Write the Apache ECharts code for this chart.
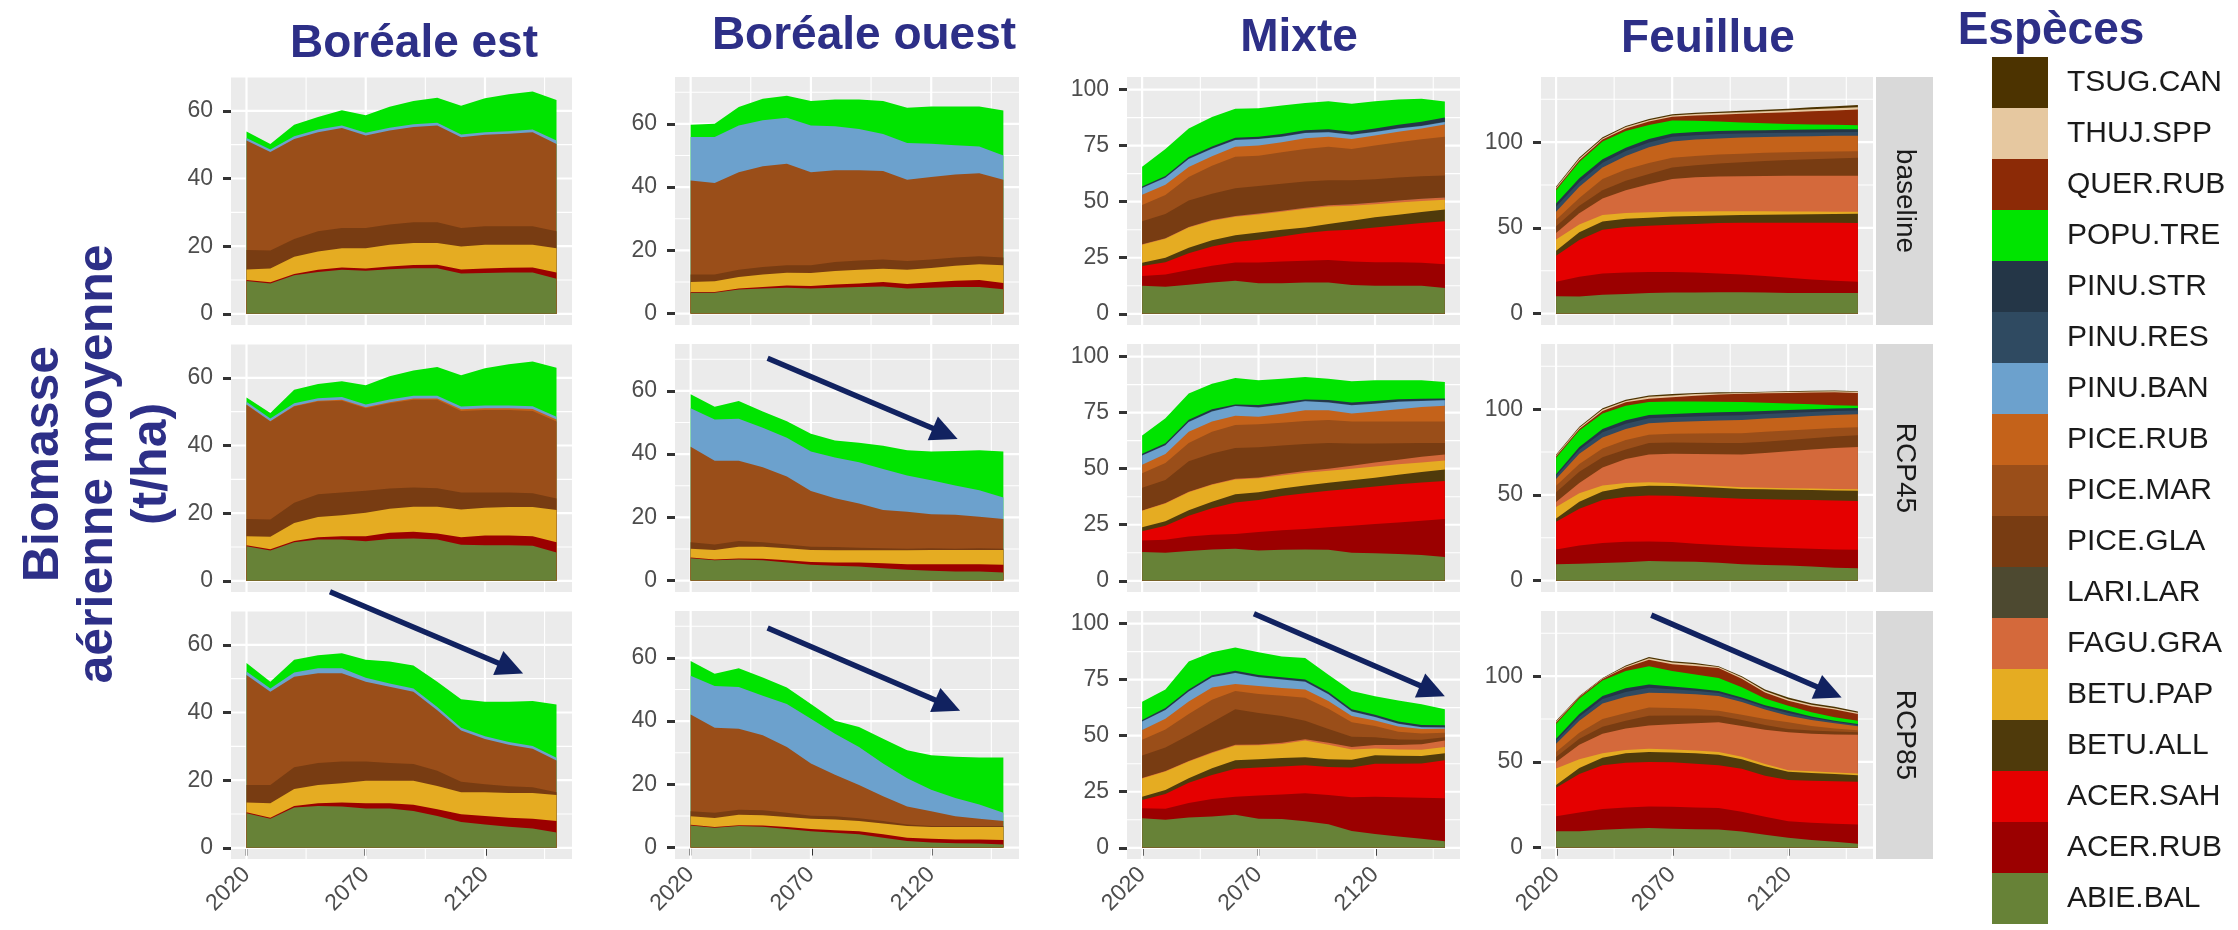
<!DOCTYPE html>
<html><head><meta charset="utf-8">
<script src="https://cdn.jsdelivr.net/npm/echarts@6/dist/echarts.min.js"></script>
<style>html,body{margin:0;padding:0;background:#fff;}#c{width:2238px;height:930px;}</style>
</head><body><div id="c"></div>
<script>
// ---------------- DATA ----------------
const years = [2020, 2030, 2040, 2050, 2060, 2070, 2080, 2090, 2100, 2110, 2120, 2130, 2140, 2150];
const xTickLabels = [2020, 2070, 2120];
const xMinorLines = [2045, 2095, 2145];
const regions = ['Boréale est', 'Boréale ouest', 'Mixte', 'Feuillue'];
const scenarios = ['baseline', 'RCP45', 'RCP85'];
const speciesOrder = ['ABIE.BAL','ACER.RUB','ACER.SAH','BETU.ALL','BETU.PAP','FAGU.GRA','LARI.LAR','PICE.GLA','PICE.MAR','PICE.RUB','PINU.BAN','PINU.RES','PINU.STR','POPU.TRE','QUER.RUB','THUJ.SPP','TSUG.CAN'];
const speciesColors = ['#678237','#9B0000','#E50000','#4F3A0B','#E5AC22','#D4693B','#4D4930','#783C12','#9A4E19','#C4621A','#6CA1CD','#2F4A61','#243647','#00E400','#8C2A06','#E6C8A0','#4C3300'];
const yTicksBorealEst = [0, 20, 40, 60];
const yMinorBorealEst = [10, 30, 50, 70];
const yTicksBorealOuest = [0, 20, 40, 60];
const yMinorBorealOuest = [10, 30, 50, 70];
const yTicksMixte = [0, 25, 50, 75, 100];
const yMinorMixte = [12.5, 37.5, 62.5, 87.5];
const yTicksFeuillue = [0, 50, 100];
const yMinorFeuillue = [25, 75, 125];

// biomass (t/ha) per species, one small object per panel
const borealEstBaseline = {
  'ABIE.BAL': [9.7, 9.0, 11.4, 12.4, 13.0, 12.7, 13.2, 13.5, 13.5, 11.9, 12.1, 12.2, 12.2, 10.4],
  'ACER.RUB': [0.3, 0.3, 0.4, 0.6, 0.7, 0.7, 0.8, 0.9, 1.0, 1.2, 1.3, 1.4, 1.5, 1.8],
  'BETU.PAP': [3.1, 4.1, 5.1, 5.4, 5.7, 6.0, 6.4, 6.5, 6.4, 6.8, 7.0, 6.8, 6.7, 7.2],
  'PICE.GLA': [5.8, 5.3, 5.2, 6.0, 6.0, 6.0, 6.0, 6.2, 6.2, 5.5, 5.5, 5.5, 5.5, 5.0],
  'PICE.MAR': [32.3, 29.1, 29.6, 29.3, 29.5, 27.3, 27.8, 28.1, 28.6, 26.8, 27.0, 27.3, 27.8, 25.8],
  'PINU.BAN': [0.8, 0.8, 0.8, 0.8, 0.8, 0.8, 0.8, 0.8, 0.8, 0.8, 0.8, 0.8, 0.8, 1.0],
  'POPU.TRE': [1.9, 1.6, 3.4, 3.7, 4.5, 5.2, 6.2, 6.9, 7.4, 8.5, 10.0, 10.9, 11.2, 12.0]
};
const borealEstRcp45 = {
  'ABIE.BAL': [10.2, 9.0, 11.4, 12.2, 12.2, 11.7, 12.4, 12.5, 12.2, 10.7, 10.5, 10.5, 10.4, 8.4],
  'ACER.RUB': [0.3, 0.3, 0.4, 0.7, 1.0, 1.5, 1.8, 2.0, 1.8, 2.2, 2.9, 2.9, 2.8, 3.0],
  'BETU.PAP': [2.7, 3.7, 5.3, 6.0, 6.2, 6.9, 7.1, 7.4, 7.9, 8.2, 8.2, 8.4, 8.6, 9.5],
  'PICE.GLA': [5.1, 5.1, 6.0, 6.7, 6.7, 6.5, 6.0, 5.7, 5.5, 5.0, 4.5, 4.3, 4.1, 3.4],
  'PICE.MAR': [33.7, 29.0, 28.4, 27.4, 27.1, 24.4, 25.2, 25.9, 26.1, 24.1, 24.4, 24.4, 24.3, 22.8],
  'PICE.RUB': [0.1, 0.1, 0.2, 0.2, 0.3, 0.3, 0.3, 0.4, 0.4, 0.5, 0.5, 0.5, 0.6, 0.6],
  'PINU.BAN': [0.8, 0.8, 0.8, 0.8, 0.8, 0.8, 0.8, 0.8, 0.8, 0.8, 0.8, 0.8, 0.8, 0.8],
  'POPU.TRE': [1.3, 1.6, 4.0, 4.2, 4.7, 5.7, 6.9, 7.5, 8.5, 9.3, 11.0, 12.2, 13.2, 14.5]
};
const borealEstRcp85 = {
  'ABIE.BAL': [10.2, 8.6, 11.9, 12.4, 12.2, 11.6, 11.6, 10.9, 9.4, 7.6, 6.9, 6.2, 5.7, 4.5],
  'ACER.RUB': [0.3, 0.3, 0.5, 0.8, 1.2, 1.6, 1.6, 1.8, 2.0, 2.3, 2.5, 2.7, 2.9, 3.4],
  'BETU.PAP': [2.9, 4.3, 5.0, 5.4, 5.7, 6.6, 6.6, 7.1, 6.9, 6.5, 7.0, 7.3, 7.6, 7.7],
  'PICE.GLA': [5.2, 5.4, 6.4, 6.5, 6.4, 5.7, 5.3, 5.0, 4.5, 3.1, 2.4, 2.0, 1.7, 0.8],
  'PICE.MAR': [32.5, 27.5, 26.8, 26.5, 26.1, 23.6, 22.5, 21.3, 17.9, 15.2, 13.4, 12.3, 11.4, 9.4],
  'PINU.BAN': [1.0, 1.0, 1.2, 1.5, 1.5, 1.2, 1.0, 1.0, 0.9, 0.8, 0.8, 0.8, 0.8, 0.8],
  'POPU.TRE': [2.5, 2.0, 3.8, 3.8, 4.4, 5.3, 6.5, 6.8, 7.5, 8.4, 10.2, 11.9, 13.3, 15.8]
};
const borealOuestBaseline = {
  'ABIE.BAL': [6.6, 6.6, 7.6, 7.9, 8.2, 7.9, 8.2, 8.4, 8.6, 7.9, 8.2, 8.4, 8.4, 7.7],
  'ACER.RUB': [0.2, 0.2, 0.3, 0.5, 0.7, 0.8, 1.0, 1.1, 1.4, 1.5, 1.7, 2.0, 2.2, 2.0],
  'BETU.PAP': [3.2, 3.4, 3.7, 4.0, 4.0, 4.1, 4.3, 4.4, 4.2, 4.5, 4.5, 4.7, 5.0, 5.6],
  'PICE.GLA': [2.4, 2.2, 2.3, 2.3, 2.4, 2.5, 2.8, 2.9, 2.9, 2.7, 2.7, 2.6, 2.5, 2.4],
  'PICE.MAR': [29.7, 28.9, 30.8, 31.9, 32.1, 29.4, 29.0, 28.5, 28.0, 25.7, 26.1, 26.3, 26.3, 24.6],
  'PINU.BAN': [13.7, 14.5, 14.8, 14.5, 14.5, 14.8, 13.9, 13.1, 11.7, 11.6, 10.5, 9.2, 8.4, 7.7],
  'POPU.TRE': [3.9, 4.2, 5.8, 6.8, 7.0, 7.7, 8.5, 9.3, 10.4, 11.2, 11.8, 12.3, 12.7, 14.2]
};
const borealOuestRcp45 = {
  'ABIE.BAL': [7.1, 6.4, 6.7, 6.4, 5.7, 5.0, 4.7, 4.5, 3.9, 3.4, 3.1, 2.9, 2.9, 2.6],
  'ACER.RUB': [0.2, 0.3, 0.3, 0.5, 0.7, 0.9, 1.0, 1.2, 1.6, 1.8, 2.1, 2.3, 2.3, 2.4],
  'BETU.PAP': [2.8, 3.0, 3.7, 3.8, 3.8, 3.8, 3.9, 3.9, 4.1, 4.4, 4.5, 4.5, 4.5, 4.7],
  'PICE.GLA': [2.0, 1.7, 1.8, 1.4, 1.2, 1.0, 1.0, 0.8, 0.6, 0.5, 0.5, 0.4, 0.5, 0.4],
  'PICE.MAR': [30.2, 26.5, 25.4, 23.7, 21.5, 17.6, 15.4, 14.0, 12.1, 11.7, 10.8, 10.7, 10.0, 9.4],
  'PINU.BAN': [12.2, 13.0, 13.3, 12.5, 12.3, 12.5, 12.9, 13.0, 13.0, 11.4, 10.7, 9.3, 8.4, 6.8],
  'POPU.TRE': [4.4, 4.1, 5.6, 5.2, 5.2, 5.6, 5.4, 6.2, 7.3, 8.0, 9.1, 10.9, 12.6, 14.5]
};
const borealOuestRcp85 = {
  'ABIE.BAL': [7.0, 6.3, 6.8, 6.6, 5.9, 5.2, 4.7, 4.2, 3.1, 2.1, 1.6, 1.4, 1.3, 1.0],
  'ACER.RUB': [0.2, 0.2, 0.3, 0.4, 0.6, 0.7, 0.8, 1.0, 1.1, 1.0, 1.2, 1.2, 1.3, 1.4],
  'BETU.PAP': [2.7, 2.9, 3.3, 3.2, 3.2, 3.2, 3.4, 3.2, 3.4, 3.7, 3.7, 3.9, 3.9, 4.1],
  'PICE.GLA': [1.6, 1.6, 1.6, 1.6, 1.3, 1.0, 1.0, 0.9, 0.8, 0.5, 0.3, 0.3, 0.3, 0.3],
  'PICE.MAR': [30.6, 26.9, 25.6, 23.7, 20.8, 16.5, 13.1, 10.5, 7.8, 5.7, 4.7, 3.1, 2.3, 1.6],
  'PINU.BAN': [12.2, 13.2, 13.2, 12.5, 13.6, 14.1, 13.0, 12.0, 10.4, 8.9, 6.8, 5.8, 4.5, 2.6],
  'POPU.TRE': [4.7, 3.9, 5.9, 5.8, 5.2, 4.7, 4.1, 6.3, 7.8, 8.9, 10.9, 13.0, 14.9, 17.5]
};
const mixteBaseline = {
  'ABIE.BAL': [12.5, 12.1, 13.0, 14.0, 14.7, 13.6, 13.6, 13.9, 14.0, 12.8, 12.5, 12.5, 12.5, 11.5],
  'ACER.RUB': [4.4, 5.4, 6.5, 7.4, 8.2, 9.3, 9.7, 9.7, 10.0, 10.5, 10.5, 10.5, 10.3, 10.6],
  'ACER.SAH': [4.4, 5.5, 7.5, 8.6, 9.1, 10.1, 11.2, 12.4, 13.0, 14.2, 15.5, 16.5, 17.7, 19.2],
  'BETU.ALL': [1.5, 2.0, 2.5, 2.8, 3.0, 3.3, 3.0, 2.5, 3.0, 4.0, 4.5, 4.7, 4.9, 5.2],
  'BETU.PAP': [8.0, 8.5, 9.0, 8.7, 8.3, 8.0, 8.0, 8.3, 7.8, 6.7, 5.8, 5.4, 4.9, 4.4],
  'FAGU.GRA': [0.2, 0.2, 0.2, 0.3, 0.3, 0.4, 0.5, 0.5, 0.6, 0.7, 0.8, 0.9, 1.0, 1.0],
  'LARI.LAR': [0, 0, 0, 0, 0, 0, 0, 0, 0, 0, 0, 0, 0, 0],
  'PICE.GLA': [10.3, 10.8, 11.8, 11.7, 12.4, 12.3, 12.0, 11.7, 11.1, 10.6, 10.4, 10.3, 10.0, 9.8],
  'PICE.MAR': [7.2, 8.5, 10.5, 12.5, 14.0, 13.5, 14.0, 14.5, 15.0, 14.0, 15.0, 15.7, 16.5, 17.2],
  'PICE.RUB': [4.6, 4.5, 4.5, 4.3, 4.5, 4.6, 4.5, 4.8, 4.5, 4.5, 4.5, 4.7, 4.8, 5.5],
  'PINU.BAN': [3.0, 3.2, 3.5, 3.3, 3.0, 2.8, 2.5, 2.3, 2.0, 1.8, 1.6, 1.4, 1.2, 1.1],
  'PINU.RES': [0.2, 0.2, 0.2, 0.2, 0.2, 0.2, 0.2, 0.2, 0.2, 0.2, 0.2, 0.2, 0.2, 0.2],
  'PINU.STR': [0.5, 0.6, 0.7, 0.8, 0.8, 0.9, 1.0, 1.0, 1.1, 1.2, 1.3, 1.5, 1.6, 1.8],
  'POPU.TRE': [8.8, 12.0, 12.7, 13.2, 12.9, 12.7, 12.7, 12.2, 12.5, 12.5, 12.2, 11.3, 10.3, 7.2]
};
const mixteRcp45 = {
  'ABIE.BAL': [12.8, 12.5, 13.3, 14.0, 14.3, 13.5, 13.8, 14.0, 13.8, 12.5, 12.3, 12.0, 11.5, 10.6],
  'ACER.RUB': [5.2, 5.8, 6.5, 6.5, 6.6, 8.3, 8.7, 9.1, 10.1, 12.0, 13.0, 14.0, 15.3, 16.9],
  'ACER.SAH': [4.1, 6.2, 9.2, 11.8, 14.0, 14.2, 15.3, 15.9, 16.2, 16.5, 16.7, 17.0, 17.0, 17.0],
  'BETU.ALL': [1.8, 2.0, 2.5, 3.0, 3.7, 3.5, 3.4, 3.5, 3.6, 3.8, 4.0, 4.3, 4.7, 5.1],
  'BETU.PAP': [7.3, 8.0, 8.0, 7.5, 6.6, 6.2, 5.8, 5.7, 5.4, 5.2, 5.0, 4.7, 4.3, 4.0],
  'FAGU.GRA': [0.2, 0.2, 0.2, 0.2, 0.3, 0.4, 0.6, 0.8, 0.9, 1.3, 1.7, 2.0, 2.5, 2.7],
  'PICE.GLA': [10.1, 10.3, 13.6, 13.8, 13.7, 13.4, 12.7, 12.0, 11.4, 9.9, 8.5, 7.3, 6.1, 5.1],
  'PICE.MAR': [6.5, 7.5, 8.2, 9.7, 10.3, 10.3, 10.2, 10.3, 10.3, 9.8, 9.8, 9.7, 9.6, 9.6],
  'PICE.RUB': [3.8, 4.0, 5.0, 4.5, 4.1, 3.4, 4.0, 4.8, 4.4, 3.6, 4.5, 5.5, 6.5, 7.1],
  'PINU.BAN': [4.1, 4.0, 4.3, 4.5, 4.3, 4.1, 4.0, 4.0, 3.4, 3.7, 3.5, 3.3, 2.7, 2.4],
  'PINU.RES': [0.2, 0.2, 0.2, 0.2, 0.2, 0.2, 0.2, 0.2, 0.2, 0.2, 0.2, 0.2, 0.2, 0.2],
  'PINU.STR': [0.5, 0.6, 0.8, 0.8, 0.5, 0.9, 0.9, 0.6, 0.9, 1.0, 1.0, 1.0, 0.8, 0.6],
  'POPU.TRE': [8.2, 11.2, 11.7, 11.4, 11.8, 11.0, 10.5, 10.0, 9.5, 9.5, 9.2, 8.4, 8.2, 7.4]
};
const mixteRcp85 = {
  'ABIE.BAL': [13.2, 12.5, 13.5, 14.0, 14.7, 13.0, 12.8, 11.8, 10.5, 7.5, 6.2, 5.0, 4.0, 2.9],
  'ACER.RUB': [4.4, 4.9, 6.5, 7.8, 8.1, 10.3, 11.0, 12.5, 13.0, 15.0, 16.6, 17.5, 18.3, 19.2],
  'ACER.SAH': [3.7, 6.6, 9.0, 10.7, 12.5, 12.5, 12.5, 12.5, 12.5, 13.3, 14.7, 15.0, 15.3, 16.9],
  'BETU.ALL': [1.5, 1.8, 2.0, 3.0, 3.7, 3.7, 3.7, 3.6, 3.5, 3.5, 3.8, 3.5, 3.3, 3.2],
  'BETU.PAP': [8.1, 8.2, 7.5, 6.8, 6.6, 6.2, 6.3, 7.4, 6.5, 4.5, 3.0, 2.8, 2.8, 2.7],
  'FAGU.GRA': [0.2, 0.2, 0.2, 0.3, 0.3, 0.4, 0.5, 0.6, 0.8, 1.2, 1.5, 2.0, 2.5, 2.9],
  'PICE.GLA': [10.1, 10.5, 11.5, 13.4, 15.9, 14.0, 12.0, 8.2, 6.2, 4.5, 3.5, 2.5, 2.0, 1.5],
  'PICE.MAR': [7.0, 8.0, 9.5, 10.0, 8.1, 8.5, 9.0, 10.3, 9.0, 6.5, 5.0, 3.5, 2.8, 2.0],
  'PICE.RUB': [4.3, 4.8, 5.5, 5.5, 3.2, 3.5, 3.5, 3.7, 3.5, 2.8, 2.5, 2.3, 2.0, 1.8],
  'PINU.BAN': [3.8, 4.0, 4.5, 4.5, 4.9, 4.0, 3.8, 3.5, 3.0, 2.0, 1.5, 1.2, 0.8, 0.5],
  'PINU.RES': [0.2, 0.2, 0.2, 0.2, 0.2, 0.2, 0.2, 0.2, 0.2, 0.2, 0.2, 0.2, 0.2, 0.2],
  'PINU.STR': [0.5, 0.6, 0.7, 0.8, 0.8, 0.8, 0.8, 0.8, 0.8, 0.8, 0.8, 0.8, 0.8, 0.8],
  'POPU.TRE': [8.1, 8.3, 12.5, 10.2, 10.3, 10.1, 9.2, 9.5, 7.7, 8.1, 8.3, 9.4, 9.2, 7.2]
};
const feuillueBaseline = {
  'ABIE.BAL': [10.1, 10.0, 11.0, 11.5, 12.0, 12.3, 12.3, 12.5, 12.5, 12.3, 12.0, 12.0, 12.0, 12.0],
  'ACER.RUB': [8.5, 11.5, 12.4, 12.5, 12.3, 12.0, 11.7, 11.0, 10.3, 9.7, 9.0, 8.0, 7.2, 6.6],
  'ACER.SAH': [15.2, 21.5, 25.6, 26.5, 27.0, 27.6, 28.3, 29.3, 30.2, 31.0, 32.0, 33.0, 33.8, 34.3],
  'BETU.ALL': [2.9, 4.5, 4.8, 4.8, 4.7, 4.8, 4.7, 4.5, 4.5, 4.7, 4.8, 5.0, 5.1, 5.3],
  'BETU.PAP': [6.6, 4.5, 3.8, 3.4, 3.2, 2.8, 2.6, 2.4, 2.2, 2.0, 1.8, 1.6, 1.4, 1.3],
  'FAGU.GRA': [3.8, 6.5, 9.5, 13.3, 16.3, 19.0, 19.9, 20.3, 20.5, 20.6, 20.8, 20.8, 20.9, 20.9],
  'PICE.GLA': [3.9, 4.5, 4.8, 5.5, 6.0, 6.7, 7.0, 7.5, 8.1, 8.7, 9.2, 9.7, 10.1, 10.5],
  'PICE.MAR': [3.8, 4.5, 6.6, 6.5, 6.3, 5.7, 5.5, 5.3, 5.0, 4.8, 4.5, 4.3, 4.1, 3.8],
  'PICE.RUB': [4.7, 6.5, 6.7, 8.0, 9.2, 9.5, 9.5, 9.4, 9.4, 9.2, 9.2, 9.1, 9.1, 9.1],
  'PINU.RES': [2.8, 2.8, 2.8, 2.8, 2.8, 2.8, 2.6, 2.5, 2.4, 2.3, 2.2, 2.2, 2.1, 2.1],
  'PINU.STR': [2.0, 2.2, 2.0, 2.0, 2.0, 1.9, 1.9, 1.8, 1.7, 1.7, 1.7, 1.7, 1.7, 1.7],
  'POPU.TRE': [7.6, 9.5, 10.4, 9.7, 8.2, 7.6, 6.5, 5.5, 4.7, 4.0, 3.4, 2.9, 2.6, 2.3],
  'QUER.RUB': [0.9, 1.0, 1.1, 1.5, 2.0, 2.1, 3.0, 4.0, 5.0, 6.0, 6.9, 7.7, 8.4, 9.1],
  'THUJ.SPP': [0.7, 0.8, 0.7, 0.8, 0.8, 0.8, 0.9, 1.0, 1.0, 1.0, 1.1, 1.2, 1.3, 1.3],
  'TSUG.CAN': [0.6, 0.7, 0.6, 0.7, 0.7, 0.7, 0.8, 0.8, 0.8, 0.9, 0.9, 1.1, 1.2, 1.4]
};
const feuillueRcp45 = {
  'ABIE.BAL': [9.6, 9.8, 10.3, 10.8, 11.5, 11.2, 11.0, 10.5, 9.6, 9.2, 8.8, 8.3, 7.6, 7.2],
  'ACER.RUB': [8.6, 10.7, 11.7, 11.9, 11.4, 11.3, 10.5, 10.3, 10.5, 10.3, 10.2, 10.3, 10.6, 10.8],
  'ACER.SAH': [16.2, 21.5, 25.0, 26.3, 26.8, 27.0, 27.5, 27.6, 27.7, 28.0, 28.2, 28.4, 28.6, 28.5],
  'BETU.ALL': [1.9, 4.0, 5.0, 5.5, 5.7, 5.7, 5.8, 5.8, 5.7, 5.8, 5.8, 5.8, 5.8, 5.9],
  'BETU.PAP': [6.7, 5.0, 3.5, 2.5, 2.0, 1.8, 1.2, 1.0, 1.0, 0.9, 0.9, 0.9, 0.9, 0.9],
  'FAGU.GRA': [2.9, 6.0, 10.5, 14.0, 16.2, 17.0, 17.8, 18.5, 19.1, 20.3, 21.6, 22.8, 23.9, 24.7],
  'PICE.GLA': [5.7, 6.5, 6.0, 5.5, 6.7, 6.5, 6.6, 6.6, 6.7, 6.5, 6.5, 6.5, 6.7, 6.8],
  'PICE.MAR': [3.8, 4.5, 5.0, 5.5, 4.8, 5.1, 5.4, 5.7, 5.7, 5.8, 5.6, 5.3, 4.9, 4.7],
  'PICE.RUB': [3.9, 6.0, 6.5, 6.5, 6.7, 6.9, 7.2, 7.4, 7.7, 7.7, 7.6, 7.7, 7.6, 7.5],
  'PINU.RES': [1.7, 2.4, 3.0, 3.0, 2.9, 2.8, 2.8, 2.8, 2.8, 2.7, 2.6, 2.4, 2.3, 2.2],
  'PINU.STR': [1.1, 1.6, 2.0, 2.0, 1.9, 1.9, 2.0, 2.0, 2.0, 1.8, 1.7, 1.6, 1.5, 1.5],
  'POPU.TRE': [9.6, 9.5, 9.0, 8.5, 7.6, 7.3, 6.7, 6.1, 5.7, 4.8, 3.8, 2.8, 1.9, 1.3],
  'QUER.RUB': [0.8, 1.0, 1.5, 2.0, 1.9, 2.5, 3.3, 4.2, 4.8, 5.5, 6.2, 6.9, 7.6, 7.5],
  'THUJ.SPP': [0.6, 0.7, 0.8, 0.8, 1.1, 1.0, 1.0, 0.7, 0.5, 0.5, 0.5, 0.6, 0.5, 0.7],
  'TSUG.CAN': [0.5, 0.6, 0.7, 0.7, 0.8, 0.8, 0.7, 0.6, 0.4, 0.4, 0.5, 0.5, 0.5, 0.3]
};
const feuillueRcp85 = {
  'ABIE.BAL': [9.6, 9.6, 10.5, 11.0, 11.5, 11.0, 10.8, 10.6, 9.5, 7.5, 5.8, 4.5, 3.5, 2.3],
  'ACER.RUB': [8.7, 10.9, 12.0, 12.5, 12.5, 12.8, 12.7, 12.5, 11.5, 10.5, 9.6, 10.0, 10.5, 11.2],
  'ACER.SAH': [16.7, 22.5, 25.5, 26.0, 26.0, 26.0, 25.5, 25.0, 25.0, 24.0, 24.0, 24.5, 24.8, 25.0],
  'BETU.ALL': [1.5, 3.5, 4.5, 5.5, 5.8, 5.7, 6.0, 6.1, 5.5, 5.5, 4.8, 4.5, 4.2, 3.8],
  'BETU.PAP': [9.7, 5.0, 2.5, 2.0, 1.9, 1.8, 1.7, 1.6, 1.5, 1.3, 1.0, 1.0, 0.9, 1.0],
  'FAGU.GRA': [3.8, 8.5, 11.5, 12.5, 13.5, 14.7, 15.8, 17.3, 18.0, 20.0, 22.1, 22.0, 22.1, 22.5],
  'PICE.GLA': [2.9, 3.5, 4.0, 4.5, 5.7, 5.0, 4.5, 3.8, 3.5, 2.7, 1.9, 1.8, 1.8, 1.5],
  'PICE.MAR': [2.9, 3.5, 4.5, 4.5, 4.8, 4.5, 4.0, 2.9, 3.0, 3.5, 3.9, 2.7, 1.7, 1.2],
  'PICE.RUB': [4.8, 7.0, 9.0, 9.5, 8.7, 8.5, 8.5, 8.7, 7.5, 5.5, 3.8, 3.5, 3.0, 2.3],
  'PINU.RES': [1.8, 2.4, 2.7, 2.8, 2.9, 2.4, 2.0, 1.7, 1.5, 1.5, 1.7, 1.2, 0.9, 0.8],
  'PINU.STR': [1.1, 1.6, 1.8, 2.2, 1.9, 1.6, 1.3, 1.1, 1.0, 1.0, 1.2, 0.8, 0.6, 0.5],
  'POPU.TRE': [8.6, 9.0, 9.0, 10.0, 10.6, 9.0, 8.2, 7.7, 6.0, 4.0, 2.9, 2.5, 2.0, 1.9],
  'QUER.RUB': [0.9, 0.8, 0.8, 2.0, 3.8, 4.0, 5.0, 5.8, 5.0, 3.5, 2.9, 3.5, 4.5, 3.9],
  'THUJ.SPP': [0.5, 0.4, 0.4, 0.6, 0.8, 0.9, 0.9, 0.5, 0.8, 0.9, 0.9, 0.9, 0.8, 0.8],
  'TSUG.CAN': [0.5, 0.3, 0.3, 0.6, 0.8, 0.8, 0.8, 0.5, 0.7, 0.9, 1.0, 0.8, 0.8, 0.7]
};
// annotation arrows [year start, value start, year end, value end]
const arrowBorealEstRcp85 = [2055, 75.7, 2136, 51.5];
const arrowBorealOuestRcp45 = [2052, 70.3, 2131, 44.8];
const arrowBorealOuestRcp85 = [2052, 69.4, 2132, 43.3];
const arrowMixteRcp85 = [2068, 104.4, 2150, 67.6];
const arrowFeuillueRcp85 = [2061, 135.6, 2143, 87.5];

// ---------------- LAYOUT ----------------
const FONT = '"Liberation Sans", Arial, Helvetica, sans-serif';
const NAVY = '#2D2F87';
const ARROW = '#112260';
const COL_LEFT = [231, 675, 1127, 1541];
const COL_WIDTH = [341, 344, 333, 332];
const ROW_TOP = [77, 344, 611];
const ROW_H = 248;
const Y_RANGE = [[-3.3, 70], [-3.6, 74.8], [-5, 105.6], [-6.6, 138]];
const X_RANGE = [2013.5, 2156.5];

const panelData = [
  [borealEstBaseline, borealEstRcp45, borealEstRcp85],
  [borealOuestBaseline, borealOuestRcp45, borealOuestRcp85],
  [mixteBaseline, mixteRcp45, mixteRcp85],
  [feuillueBaseline, feuillueRcp45, feuillueRcp85]
];
const yTicks = [yTicksBorealEst, yTicksBorealOuest, yTicksMixte, yTicksFeuillue];
const yMinor = [yMinorBorealEst, yMinorBorealOuest, yMinorMixte, yMinorFeuillue];
const arrows = [
  {col: 0, row: 2, v: arrowBorealEstRcp85},
  {col: 1, row: 1, v: arrowBorealOuestRcp45},
  {col: 1, row: 2, v: arrowBorealOuestRcp85},
  {col: 2, row: 2, v: arrowMixteRcp85},
  {col: 3, row: 2, v: arrowFeuillueRcp85}
];
const colorOf = s => speciesColors[speciesOrder.indexOf(s)];

// white panel grid lines, drawn beneath the areas
function renderGridLine(params, api) {
  const cs = params.coordSys;
  const p = api.coord([api.value(0), api.value(1)]);
  const vertical = api.value(2) === 1;
  const shape = vertical ? {x1: p[0], y1: cs.y, x2: p[0], y2: cs.y + cs.height}
                         : {x1: cs.x, y1: p[1], x2: cs.x + cs.width, y2: p[1]};
  return {type: 'line', shape, style: {stroke: '#FFFFFF', lineWidth: api.value(3)}};
}

const grids = [], xAxes = [], yAxes = [], series = [];
panelData.forEach((col, c) => col.forEach((panel, r) => {
  const gi = c * 3 + r;
  grids.push({left: COL_LEFT[c], top: ROW_TOP[r], width: COL_WIDTH[c], height: ROW_H,
    show: true, backgroundColor: '#EBEBEB', borderWidth: 0, containLabel: false, outerBoundsMode: 'none'});
  const bottomRow = r === 2;
  xAxes.push({gridIndex: gi, type: 'value', min: X_RANGE[0], max: X_RANGE[1],
    axisLine: {show: false}, splitLine: {show: false},
    axisTick: {show: bottomRow, customValues: xTickLabels, length: 8, lineStyle: {color: '#333333', width: 3}},
    axisLabel: {show: bottomRow, customValues: xTickLabels, rotate: 45, margin: 12, fontSize: 23,
      color: '#4D4D4D', fontFamily: FONT, formatter: v => String(v)}});
  yAxes.push({gridIndex: gi, type: 'value', min: Y_RANGE[c][0], max: Y_RANGE[c][1],
    axisLine: {show: false}, splitLine: {show: false},
    axisTick: {show: true, customValues: yTicks[c], length: 8, lineStyle: {color: '#333333', width: 3}},
    axisLabel: {customValues: yTicks[c], margin: 18, fontSize: 23, color: '#4D4D4D', fontFamily: FONT,
      formatter: v => String(v)}});
  const gl = [];
  xTickLabels.forEach(v => gl.push([v, 0, 1, 2.2]));
  xMinorLines.forEach(v => gl.push([v, 0, 1, 1.1]));
  yTicks[c].forEach(v => gl.push([years[0], v, 0, 2.2]));
  yMinor[c].forEach(v => gl.push([years[0], v, 0, 1.1]));
  series.push({type: 'custom', name: '__grid' + gi, xAxisIndex: gi, yAxisIndex: gi, z: 1, silent: true,
    clip: true, data: gl, renderItem: renderGridLine});
  // stacked areas: cumulative tops, painted from the top layer down
  const present = speciesOrder.filter(s => panel[s]);
  const running = years.map(() => 0);
  const stacked = present.map(s => ({s, vals: panel[s].map((v, i) => (running[i] += v))}));
  for (let k = stacked.length - 1; k >= 0; k--) {
    const {s, vals} = stacked[k];
    const col = colorOf(s);
    series.push({type: 'line', name: s, xAxisIndex: gi, yAxisIndex: gi, z: 2, silent: true,
      color: col, itemStyle: {color: col},
      data: years.map((y, i) => [y, vals[i]]), symbol: 'none', showSymbol: false,
      lineStyle: {width: 0, opacity: 0}, areaStyle: {color: col, opacity: 1, origin: 'auto'}});
  }
}));

function renderArrow(params, api) {
  const p1 = api.coord([api.value(0), api.value(1)]);
  const p2 = api.coord([api.value(2), api.value(3)]);
  const dx = p2[0] - p1[0], dy = p2[1] - p1[1];
  const len = Math.hypot(dx, dy), ux = dx / len, uy = dy / len;
  const hl = 27, hw = 13;
  const bx = p2[0] - ux * hl, by = p2[1] - uy * hl;
  return {type: 'group', children: [
    {type: 'line', shape: {x1: p1[0], y1: p1[1], x2: bx + ux * 3, y2: by + uy * 3}, style: {stroke: ARROW, lineWidth: 5.5}},
    {type: 'polygon', shape: {points: [[p2[0], p2[1]], [bx - uy * hw, by + ux * hw], [bx + uy * hw, by - ux * hw]]}, style: {fill: ARROW}}
  ]};
}
arrows.forEach(a => {
  const gi = a.col * 3 + a.row;
  series.push({type: 'custom', name: '__arrow' + gi, xAxisIndex: gi, yAxisIndex: gi, z: 10, silent: true,
    clip: false, data: [a.v], renderItem: renderArrow});
});

const graphic = [];
const titleSpec = [[regions[0], 414, 44], [regions[1], 864, 36], [regions[2], 1299, 38], [regions[3], 1708, 39], ['Espèces', 2051, 31]];
titleSpec.forEach(([t, x, y]) => graphic.push({type: 'text', x, y, silent: true,
  style: {text: t, fill: NAVY, fontSize: 46, fontWeight: 'bold', fontFamily: FONT, align: 'center', verticalAlign: 'middle'}}));
graphic.push({type: 'text', x: 98, y: 464, rotation: Math.PI / 2, silent: true,
  style: {text: 'Biomasse\naérienne moyenne\n(t/ha)', fill: NAVY, fontSize: 50, fontWeight: 'bold', fontFamily: FONT,
    align: 'center', verticalAlign: 'middle', lineHeight: 54}});
scenarios.forEach((s, r) => {
  graphic.push({type: 'rect', silent: true, shape: {x: 1876, y: ROW_TOP[r], width: 57, height: ROW_H}, style: {fill: '#D9D9D9'}});
  graphic.push({type: 'text', silent: true, x: 1904.5, y: ROW_TOP[r] + ROW_H / 2, rotation: -Math.PI / 2,
    style: {text: s, fill: '#1A1A1A', fontSize: 28, fontFamily: FONT, align: 'center', verticalAlign: 'middle'}});
});

const chart = echarts.init(document.getElementById('c'), null, {renderer: 'canvas', width: 2238, height: 930});
chart.setOption({
  animation: false,
  backgroundColor: '#FFFFFF',
  textStyle: {fontFamily: FONT},
  grid: grids, xAxis: xAxes, yAxis: yAxes, series,
  legend: {orient: 'vertical', left: 1992, top: 57, padding: 0, itemWidth: 56, itemHeight: 51, itemGap: 0, icon: 'rect',
    selectedMode: false, data: speciesOrder.slice().reverse(),
    textStyle: {fontSize: 30, color: '#1A1A1A', fontFamily: FONT, padding: [0, 0, 0, 14]}},
  graphic
});
</script>
</body></html>
